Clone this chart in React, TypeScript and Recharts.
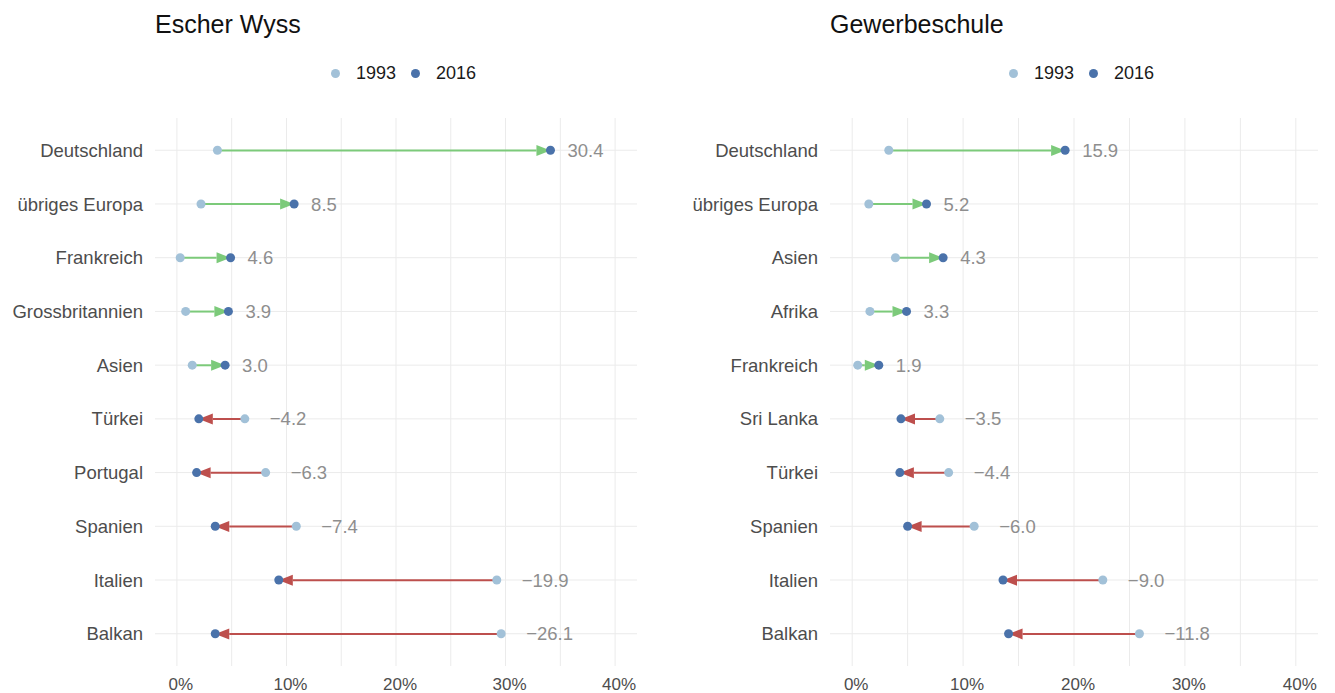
import {
  ComposedChart,
  Bar,
  Line,
  XAxis,
  YAxis,
  CartesianGrid,
  Legend,
  LabelList,
} from 'recharts'

// Escher Wyss, share of foreign population in % (1993 vs 2016)
const escherCountries = ['Deutschland', 'übriges Europa', 'Frankreich', 'Grossbritannien', 'Asien', 'Türkei', 'Portugal', 'Spanien', 'Italien', 'Balkan']
const escher1993 = [3.7, 2.2, 0.3, 0.8, 1.4, 6.2, 8.1, 10.9, 29.2, 29.6]
const escher2016 = [34.1, 10.7, 4.9, 4.7, 4.4, 2.0, 1.8, 3.5, 9.3, 3.5]

// Gewerbeschule
const gewerbeCountries = ['Deutschland', 'übriges Europa', 'Asien', 'Afrika', 'Frankreich', 'Sri Lanka', 'Türkei', 'Spanien', 'Italien', 'Balkan']
const gewerbe1993 = [3.3, 1.5, 3.9, 1.6, 0.5, 7.9, 8.7, 11.0, 22.6, 25.9]
const gewerbe2016 = [19.2, 6.7, 8.2, 4.9, 2.4, 4.4, 4.3, 5.0, 13.6, 14.1]

const seriesNames = ['1993', '2016']
// grid lines every 5 %, labels only every 10 %
const gridTicks = [0, 5, 10, 15, 20, 25, 30, 35, 40]

const C93 = '#a2c1d8'
const C16 = '#4a72aa'
const UP = '#7cca7a'
const DOWN = '#bd4f4d'
const FONT = '"Liberation Sans", Arial, Helvetica, sans-serif'

const makeRows = (names: string[], a: number[], b: number[]) =>
  names.map((name, i) => ({
    name,
    v93: a[i],
    v16: b[i],
    range: [Math.min(a[i], b[i]), Math.max(a[i], b[i])],
    diff: Math.round((b[i] - a[i]) * 10) / 10,
  }))

const fmt = (v: number) => v.toFixed(1).replace('-', '\u2212')

function ArrowShape(props: any) {
  const { x, y, width, height, payload } = props
  const cy = y + height / 2
  const left = Math.min(x, x + width)
  const right = Math.max(x, x + width)
  const up = payload.v16 >= payload.v93
  const from = up ? left : right
  const to = up ? right : left
  const dir = up ? 1 : -1
  const len = Math.min(14, Math.abs(to - from))
  const base = to - dir * len
  const color = up ? UP : DOWN
  return (
    <g>
      <line x1={from} y1={cy} x2={base} y2={cy} stroke={color} strokeWidth={2} />
      <polygon points={`${to},${cy} ${base},${cy - 5.5} ${base},${cy + 5.5}`} fill={color} />
    </g>
  )
}

function DiffLabel(p: any) {
  const vb = p.viewBox || p
  const { x, y, width, height } = vb
  const value = Number(p.value)
  const right = Math.max(x, x + width)
  return (
    <text
      x={right + (value < 0 ? 25 : 17)}
      y={y + height / 2}
      dy="0.35em"
      fill="#8e8e8e"
      fontSize={18.5}
      textAnchor="start"
    >
      {fmt(value)}
    </text>
  )
}

function LegendContent() {
  const colors = [C93, C16]
  return (
    <div style={{ display: 'flex', alignItems: 'center', fontSize: 18, lineHeight: '18px', color: '#1a1a1a' }}>
      {seriesNames.map((n, i) => (
        <div key={n} style={{ display: 'flex', alignItems: 'center', marginRight: 15 }}>
          <span style={{ width: 9, height: 9, borderRadius: '50%', background: colors[i], marginRight: 16 }} />
          <span>{n}</span>
        </div>
      ))}
    </div>
  )
}

interface PanelProps {
  rows: ReturnType<typeof makeRows>
  width: number
  axisWidth: number
  marginRight: number
  legendLeft: number
}

function Panel({ rows, width, axisWidth, marginRight, legendLeft }: PanelProps) {
  return (
    <ComposedChart
      width={width}
      height={693}
      data={rows}
      layout="vertical"
      margin={{ top: 78, right: marginRight, left: 0, bottom: 0 }}
    >
      <CartesianGrid stroke="#ebebeb" strokeWidth={1} syncWithTicks />
      <XAxis
        type="number"
        domain={[-2, 42]}
        ticks={gridTicks}
        interval={0}
        allowDataOverflow
        tickFormatter={(v) => (v % 10 === 0 ? `${v}%` : '')}
        axisLine={false}
        tickLine={false}
        tickSize={0}
        tickMargin={12}
        height={27}
        tick={{ fill: '#4d4d4d', fontSize: 17, dx: 4 }}
      />
      <YAxis
        type="category"
        dataKey="name"
        width={axisWidth}
        axisLine={false}
        tickLine={false}
        tickSize={0}
        tickMargin={12}
        padding={{ top: 5.4, bottom: 5.4 }}
        tick={{ fill: '#4d4d4d', fontSize: 18.5 }}
      />
      <Legend
        verticalAlign="top"
        height={40}
        content={<LegendContent />}
        wrapperStyle={{ left: legendLeft, top: 64, width: 'auto' }}
      />
      <Bar dataKey="range" barSize={12} shape={<ArrowShape />} legendType="none" isAnimationActive={false}>
        <LabelList dataKey="diff" content={<DiffLabel />} />
      </Bar>
      <Line
        dataKey="v93"
        name="1993"
        stroke="none"
        dot={{ r: 4.5, fill: C93, stroke: 'none' }}
        activeDot={false}
        legendType="circle"
        isAnimationActive={false}
      />
      <Line
        dataKey="v16"
        name="2016"
        stroke="none"
        dot={{ r: 4.5, fill: C16, stroke: 'none' }}
        activeDot={false}
        legendType="circle"
        isAnimationActive={false}
      />
    </ComposedChart>
  )
}

const titleStyle = { position: 'absolute' as const, top: 12, fontSize: 25, lineHeight: '25px', color: '#111' }

export default function App() {
  const escherRows = makeRows(escherCountries, escher1993, escher2016)
  const gewerbeRows = makeRows(gewerbeCountries, gewerbe1993, gewerbe2016)
  return (
    <div style={{ position: 'absolute', left: 0, top: 0, width: 1335, height: 693, background: '#fff', fontFamily: FONT }}>
      <div style={{ ...titleStyle, left: 155 }}>Escher Wyss</div>
      <div style={{ ...titleStyle, left: 830 }}>Gewerbeschule</div>
      <div style={{ position: 'absolute', left: 0, top: 0 }}>
        <Panel rows={escherRows} width={668} axisWidth={155} marginRight={31} legendLeft={331} />
      </div>
      <div style={{ position: 'absolute', left: 668, top: 0 }}>
        <Panel rows={gewerbeRows} width={667} axisWidth={162} marginRight={17} legendLeft={341} />
      </div>
    </div>
  )
}
